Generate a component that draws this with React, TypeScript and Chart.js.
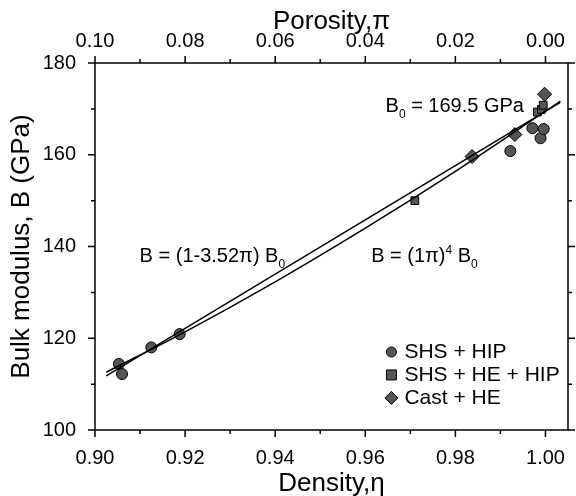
import React, { useEffect, useRef } from "react";
import { Chart, registerables } from "chart.js";
Chart.register(...registerables);

// ---- data ----
const shsHipDensity = [0.9053, 0.906, 0.9125, 0.9188, 0.9922, 0.9971, 0.9989, 0.9996];
const shsHipB = [114.4, 112.2, 118.0, 120.9, 160.8, 165.8, 163.6, 165.6];
const shsHeHipDensity = [0.971, 0.9982, 0.9991, 0.9995];
const shsHeHipB = [150, 169.3, 169.9, 170.8];
const castHeDensity = [0.9837, 0.9932, 0.9998];
const castHeB = [159.6, 164.4, 173.2];
const linearFitDensity = [0.9025, 1.0033];
const linearFitB = [111.8, 171.4];
const powerFitDensity = [0.9025, 0.92, 0.94, 0.96, 0.98, 1.0, 1.0033];
const powerFitB = [112.6, 121.4, 132.3, 144.0, 156.4, 169.5, 171.7];
const legendLabels = ["SHS + HIP", "SHS + HE + HIP", "Cast + HE"];
const densityTickLabels = ["0.90", "0.92", "0.94", "0.96", "0.98", "1.00"];
const porosityTickLabels = ["0.10", "0.08", "0.06", "0.04", "0.02", "0.00"];
const modulusTickLabels = ["100", "120", "140", "160", "180"];

const FONT = "'Liberation Sans', Arial, sans-serif";
const MARK_FILL = "#555555";
const TICK_PX = 20;
const TITLE_PX = 26;
const LEGEND_PX = 21;
const NOTE_PX = 20;

const toPts = (xs: number[], ys: number[]) => xs.map((x, i) => ({ x, y: ys[i] }));

function drawMarker(ctx: CanvasRenderingContext2D, style: string, x: number, y: number, r: number) {
  ctx.save();
  ctx.fillStyle = MARK_FILL;
  ctx.strokeStyle = "#000";
  ctx.lineWidth = 1;
  ctx.beginPath();
  if (style === "circle") ctx.arc(x, y, r, 0, Math.PI * 2);
  else if (style === "rect") ctx.rect(x - r, y - r, 2 * r, 2 * r);
  else {
    const d = r * 1.3;
    ctx.moveTo(x, y - d);
    ctx.lineTo(x + d, y);
    ctx.lineTo(x, y + d);
    ctx.lineTo(x - d, y);
    ctx.closePath();
  }
  ctx.fill();
  ctx.stroke();
  ctx.restore();
}

type Part = { t: string; sub?: boolean; sup?: boolean };
function drawRich(ctx: CanvasRenderingContext2D, x: number, y: number, parts: Part[], size: number) {
  ctx.save();
  ctx.fillStyle = "#000";
  ctx.textBaseline = "alphabetic";
  ctx.textAlign = "left";
  let cx = x;
  for (const p of parts) {
    const s = p.sub || p.sup ? Math.round(size * 0.62) : size;
    ctx.font = `${s}px ${FONT}`;
    const dy = p.sub ? size * 0.3 : p.sup ? -size * 0.42 : 0;
    ctx.fillText(p.t, cx, y + dy);
    cx += ctx.measureText(p.t).width;
  }
  ctx.restore();
}

const framePlugin = {
  id: "frameTicks",
  afterDraw(chart: any) {
    const ctx: CanvasRenderingContext2D = chart.ctx;
    const { left, right, top, bottom } = chart.chartArea;
    ctx.save();
    ctx.strokeStyle = "#000";
    ctx.lineWidth = 1.5;
    ctx.strokeRect(left, top, right - left, bottom - top);
    const major = 7, minor = 4;
    const sx = chart.scales.x, sx2 = chart.scales.x2, sy = chart.scales.y, sy2 = chart.scales.y2;
    ctx.beginPath();
    for (let k = 0; k <= 10; k++) {
      const len = k % 2 === 0 ? major : minor;
      const px = sx.getPixelForValue(0.9 + k * 0.01);
      ctx.moveTo(px, bottom);
      ctx.lineTo(px, bottom + len);
      const px2 = sx2.getPixelForValue(k * 0.01);
      ctx.moveTo(px2, top);
      ctx.lineTo(px2, top - len);
    }
    for (let k = 0; k <= 8; k++) {
      const v = 100 + k * 10;
      const len = k % 2 === 0 ? major : minor;
      const py = sy.getPixelForValue(v);
      ctx.moveTo(left, py);
      ctx.lineTo(left - len, py);
      const py2 = sy2.getPixelForValue(v);
      ctx.moveTo(right, py2);
      ctx.lineTo(right + len, py2);
    }
    ctx.stroke();
    ctx.restore();

    // legend (inside plot, lower right)
    const styles = ["circle", "rect", "diamond"];
    const lx = sx.getPixelForValue(0.9658);
    legendLabels.forEach((lab, i) => {
      const ly = sy.getPixelForValue(117.0 - i * 5.0);
      drawMarker(ctx, styles[i], lx, ly, 5);
      ctx.save();
      ctx.font = `${LEGEND_PX}px ${FONT}`;
      ctx.fillStyle = "#000";
      ctx.textBaseline = "middle";
      ctx.fillText(lab, lx + 13, ly);
      ctx.restore();
    });

    // annotations
    drawRich(ctx, sx.getPixelForValue(0.9645), sy.getPixelForValue(169.3), [
      { t: "B" }, { t: "0", sub: true }, { t: " = 169.5 GPa" },
    ], NOTE_PX);
    drawRich(ctx, sx.getPixelForValue(0.9099), sy.getPixelForValue(136.6), [
      { t: "B = (1-3.52π) B" }, { t: "0", sub: true },
    ], NOTE_PX);
    drawRich(ctx, sx.getPixelForValue(0.9613), sy.getPixelForValue(136.6), [
      { t: "B = (1π)" }, { t: "4", sup: true }, { t: " B" }, { t: "0", sub: true },
    ], NOTE_PX);
  },
};

export default function App() {
  const ref = useRef<HTMLCanvasElement | null>(null);
  useEffect(() => {
    if (!ref.current) return;
    const markerDs = (label: string, xs: number[], ys: number[], style: string, r: number) => ({
      label,
      data: toPts(xs, ys),
      showLine: false,
      pointStyle: style,
      pointRadius: r,
      pointBackgroundColor: MARK_FILL,
      pointBorderColor: "#000",
      pointBorderWidth: 1,
      xAxisID: "x",
      yAxisID: "y",
    });
    const lineDs = (label: string, xs: number[], ys: number[]) => ({
      label,
      data: toPts(xs, ys),
      showLine: true,
      pointRadius: 0,
      borderColor: "#000",
      borderWidth: 1.5,
      fill: false,
      tension: 0.4,
      xAxisID: "x",
      yAxisID: "y",
    });
    const tickFont = { family: FONT, size: TICK_PX };
    const titleFont = { family: FONT, size: TITLE_PX };
    const chart = new Chart(ref.current, {
      type: "scatter",
      data: {
        datasets: [
          lineDs("linear", linearFitDensity, linearFitB),
          lineDs("power", powerFitDensity, powerFitB),
          markerDs(legendLabels[0], shsHipDensity, shsHipB, "circle", 5.5),
          markerDs(legendLabels[1], shsHeHipDensity, shsHeHipB, "rect", 5.5),
          markerDs(legendLabels[2], castHeDensity, castHeB, "rectRot", 7),
        ] as any,
      },
      options: {
        animation: false,
        responsive: true,
        maintainAspectRatio: false,
        layout: { padding: 0 },
        plugins: { legend: { display: false }, tooltip: { enabled: false } },
        scales: {
          x: {
            type: "linear",
            position: "bottom",
            min: 0.9,
            max: 1.005,
            grid: { display: false },
            border: { display: false },
            ticks: {
              stepSize: 0.02,
              includeBounds: false,
              autoSkip: false,
              maxRotation: 0,
              padding: 8,
              color: "#000",
              font: tickFont,
              callback: (v: any) => {
                const i = Math.round((Number(v) - 0.9) / 0.02);
                return densityTickLabels[i] ?? "";
              },
            },
            title: { display: true, text: "Density,η", color: "#000", font: titleFont, padding: { top: 0, bottom: -3 } },
            afterFit: (s: any) => { s.height = 66; },
          },
          x2: {
            type: "linear",
            position: "top",
            reverse: true,
            min: -0.005,
            max: 0.1,
            grid: { display: false },
            border: { display: false },
            ticks: {
              stepSize: 0.02,
              includeBounds: false,
              autoSkip: false,
              maxRotation: 0,
              padding: 2,
              color: "#000",
              font: tickFont,
              callback: (v: any) => {
                const i = Math.round((0.1 - Number(v)) / 0.02);
                return porosityTickLabels[i] ?? "";
              },
            },
            title: { display: true, text: "Porosity,π", color: "#000", font: titleFont, padding: { top: 6, bottom: 0 } },
            afterFit: (s: any) => { s.height = 63; },
          },
          y: {
            type: "linear",
            position: "left",
            min: 100,
            max: 180,
            grid: { display: false },
            border: { display: false },
            ticks: {
              stepSize: 20,
              autoSkip: false,
              padding: 11,
              color: "#000",
              font: tickFont,
              callback: (v: any) => {
                const i = Math.round((Number(v) - 100) / 20);
                return modulusTickLabels[i] ?? "";
              },
            },
            title: { display: true, text: "Bulk modulus, B (GPa)", color: "#000", font: titleFont, padding: { top: 6, bottom: 0 } },
            afterFit: (s: any) => { s.width = 95; },
          },
          y2: {
            type: "linear",
            position: "right",
            min: 100,
            max: 180,
            display: true,
            grid: { display: false },
            border: { display: false },
            ticks: { display: false, stepSize: 20 },
            afterFit: (s: any) => { s.width = 6; },
          },
        },
      } as any,
      plugins: [framePlugin],
    });
    return () => chart.destroy();
  }, []);
  return (
    <div style={{ position: "absolute", left: 0, top: 0, width: 576, height: 496, background: "#fff" }}>
      <canvas ref={ref} />
    </div>
  );
}
